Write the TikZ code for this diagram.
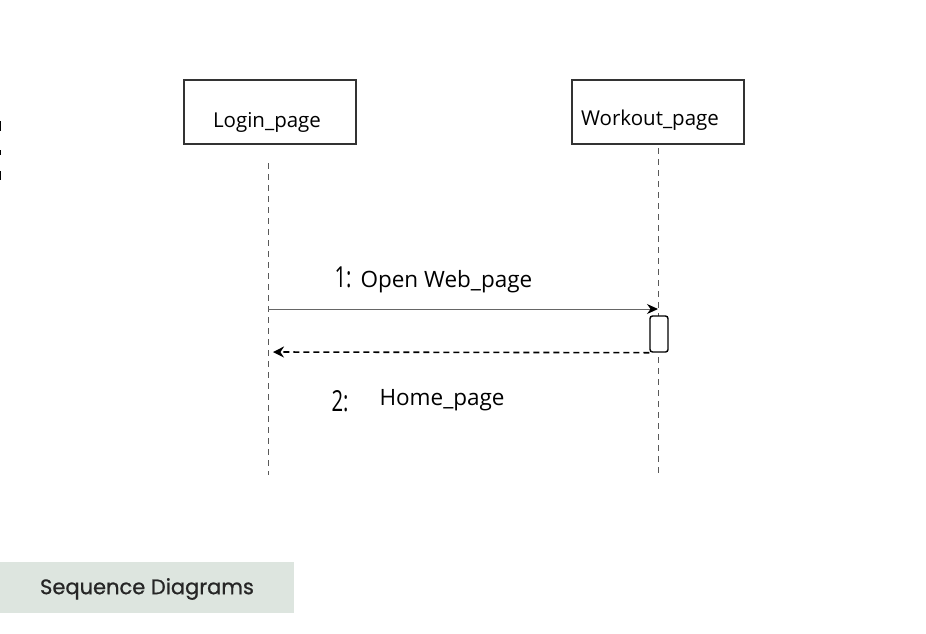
\documentclass[tikz,border=0pt]{standalone}
\usepackage{fontspec}
\setmainfont{Open Sans}
\newfontfamily\labelfont[FakeBold=0.8]{Poppins}
\usetikzlibrary{arrows.meta,positioning}
\definecolor{labelbg}{HTML}{DDE5DF}
\definecolor{msggray}{HTML}{666666}
\tikzset{
  object/.style={draw=black!80, line width=1.4pt, minimum width=172pt, minimum height=64pt},
  objname/.style={font=\fontsize{20.5}{24}\selectfont},
  lifeline/.style={gray!70!black, line width=0.9pt, dash pattern=on 6pt off 5pt},
  activation/.style={draw, line width=1.4pt, rounded corners=2.5pt, minimum width=18pt, minimum height=36pt, inner sep=0pt},
  msg/.style={font=\fontsize{22.5}{26}\selectfont},
  seqno/.style={font=\fontsize{29}{30}\selectfont}
}
\begin{document}
\begin{tikzpicture}[x=1pt, y=-1pt]
            \useasboundingbox (0,0) rectangle (926,633);
            \node[object] (login) at (270,112) {};
            \node[object] (workout) at (658,112) {};
            \node[objname] (loginName) at (267,122) {Login\_page};
            \node[objname] (workoutName) at (650,120) {Workout\_page};
            \coordinate (loginTop) at (268,163);
            \coordinate (loginEnd) at (268,475);
            \coordinate (workTop) at (658,148);
            \coordinate (workEnd) at (658,475);
            \draw[lifeline] (loginTop) -- (loginEnd);
            \draw[lifeline] (workTop) -- (workEnd);
            \node[activation, fill=white] (act) at (659,334) {};
            \coordinate (sendStart) at (268,309);
            \coordinate (sendEnd) at (658,309);
            \draw[msggray, line width=1pt, -{Stealth[length=11pt, width=10pt, black]}] (sendStart) -- (sendEnd);
            \coordinate (replyEnd) at (273,352);
            \draw[line width=1.6pt, dash pattern=on 6pt off 4pt, -{Stealth[length=11pt, width=11pt]}] (act.south west) -- (replyEnd);
            \node[seqno, anchor=base west] (numOne) at (331,287) {\scalebox{0.7}[1]{1:}};
            \node[msg, anchor=base west] (msgOne) at (357,287) {Open Web\_page};
            \node[seqno, anchor=base west] (numTwo) at (328,411) {\scalebox{0.7}[1]{2:}};
            \node[msg, anchor=base west] (msgTwo) at (376,405) {Home\_page};
            % marks on the left edge
            \draw[line width=2.5pt] (0,121) -- (0,131);
            \draw[line width=1.5pt] (0,150) -- (0,155);
            \draw[line width=2.5pt] (0,171) -- (0,180);
            \fill[labelbg] (0,562) rectangle (294,613);
            \node[font=\labelfont\fontsize{21}{24}\selectfont, text=black!85] (title) at (147,589) {Sequence Diagrams};
\end{tikzpicture}
\end{document}
